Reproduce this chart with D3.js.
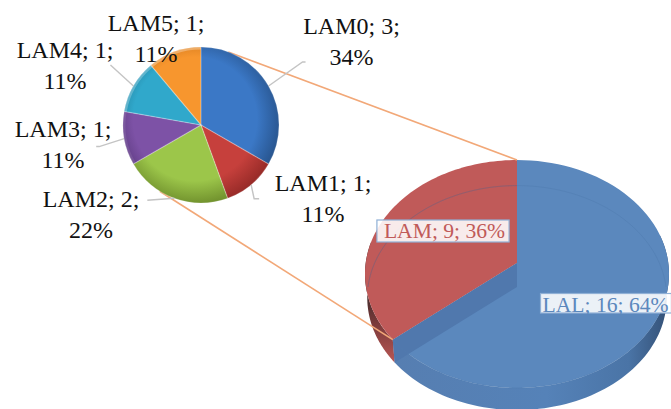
<!DOCTYPE html>
<html>
<head>
<meta charset="utf-8">
<style>
  html, body { margin: 0; padding: 0; background: #fff; }
  svg { display: block; }
  text { font-family: "Liberation Serif", serif; }
</style>
<script src="https://cdnjs.cloudflare.com/ajax/libs/d3/7.8.5/d3.min.js"></script>
</head>
<body>
<svg id="chart" width="671" height="409"></svg>
<script>
// Breakdown of the LAM slice
const subCategories = ["LAM0", "LAM1", "LAM2", "LAM3", "LAM4", "LAM5"];
const subValues = [3, 1, 2, 1, 1, 1];
const subPercents = ["34%", "11%", "22%", "11%", "11%", "11%"];
const subColors = ["#3b78c6", "#c6403c", "#9cc64a", "#7d52a6", "#30a8cb", "#f7962e"];
const subEdges = ["#28558f", "#982b28", "#6f8f2c", "#553577", "#217a96", "#c9721a"];

// Overall split
const mainCategories = ["LAL", "LAM"];
const mainValues = [16, 9];
const mainPercents = ["64%", "36%"];
const mainColors = ["#5b88bd", "#c05a59"];

const svg = d3.select("#chart");
const defs = svg.append("defs");

// ---- geometry of the two pies ----
const small = { cx: 201, cy: 125, r: 78 };
const big = { cx: 517, apexTop: 263, apexBottom: 287, a: 112.9, b: 151.3, k: 0.0965, floor: 0.985 };

const pie = d3.pie().sort(null).startAngle(0).endAngle(2 * Math.PI);
const subArcs = pie(subValues);
const mainArcs = pie(mainValues);

// Perspective projection of a point on the big pie's rim
function project(theta, level) {
  const u = Math.sin(theta), v = -Math.cos(theta);
  const s = level === "floor" ? big.floor : 1;
  const d = 1 - big.k * v;
  return [
    big.cx + s * big.b * u / d,
    (level === "floor" ? big.apexBottom : big.apexTop) + s * big.a * v / d
  ];
}
const rimAngles = (a0, a1) => d3.range(0, 81).map(i => a0 + (a1 - a0) * i / 80);
const rim = (a0, a1, level) => rimAngles(a0, a1).map(t => project(t, level));
const shape = d3.line();
const onSmall = (angle, r) => [small.cx + r * Math.sin(angle), small.cy - r * Math.cos(angle)];

const splitAngle = mainArcs[0].endAngle;

// ---- connector lines between the pies ----
const connectors = [
  { from: onSmall(20.4 * Math.PI / 180, small.r), to: project(0, "top") },
  { from: onSmall(211.9 * Math.PI / 180, small.r), to: project(splitAngle, "top") }
];

// ---- big pie: outer walls ----
const wallBlue = defs.append("linearGradient").attr("id", "wallBlue")
  .attr("gradientUnits", "userSpaceOnUse")
  .attr("x1", 395).attr("x2", 670).attr("y1", 0).attr("y2", 0);
[[0, "#567eb1"], [0.55, "#5582b8"], [0.85, "#4a74a6"], [1, "#334f74"]]
  .forEach(([o, c]) => wallBlue.append("stop").attr("offset", o).attr("stop-color", c));
const wallRed = defs.append("linearGradient").attr("id", "wallRed")
  .attr("gradientUnits", "userSpaceOnUse")
  .attr("x1", 0).attr("x2", 0).attr("y1", 290).attr("y2", 365);
[[0, "#3a2a2a"], [0.45, "#7a3a3a"], [1, "#bd5956"]]
  .forEach(([o, c]) => wallRed.append("stop").attr("offset", o).attr("stop-color", c));

const wall = (a0, a1) => shape(rim(a0, a1, "top").concat(rim(a0, a1, "floor").reverse())) + "Z";
const big3d = svg.append("g");
big3d.append("path").attr("d", wall(Math.PI * 0.42, splitAngle)).attr("fill", "url(#wallBlue)");
big3d.append("path").attr("d", wall(splitAngle, Math.PI * 1.56)).attr("fill", "url(#wallRed)");

// ---- big pie: top faces ----
const apex = [big.cx, big.apexTop];
big3d.selectAll("path.face").data(mainArcs).join("path")
  .attr("class", "face")
  .attr("d", d => shape([apex].concat(rim(d.startAngle, d.endAngle, "top"))) + "Z")
  .attr("fill", (d, i) => mainColors[i]);

// Inner cut face seen through the translucent top
big3d.append("path")
  .attr("d", shape([apex, [big.cx, big.apexBottom], project(splitAngle, "floor"), project(splitAngle, "top")]) + "Z")
  .attr("fill", "#5078ad");

// Far rim of the floor and near rim of the top, showing through
big3d.append("path").attr("d", shape(rim(-Math.PI * 0.5, Math.PI * 0.5, "floor")))
  .attr("fill", "none").attr("stroke", "#4f7cb0").attr("stroke-opacity", 0.5).attr("stroke-width", 1);
big3d.append("path").attr("d", shape(rim(Math.PI * 1.5, Math.PI * 2, "floor")))
  .attr("fill", "none").attr("stroke", "#a94c4c").attr("stroke-opacity", 0.55).attr("stroke-width", 1);
big3d.append("path").attr("d", shape(rim(Math.PI * 0.6, splitAngle, "top")))
  .attr("fill", "none").attr("stroke", "#4f7cb0").attr("stroke-opacity", 0.5).attr("stroke-width", 1);

svg.append("g").selectAll("line").data(connectors).join("line")
  .attr("x1", d => d.from[0]).attr("y1", d => d.from[1])
  .attr("x2", d => d.to[0]).attr("y2", d => d.to[1])
  .attr("stroke", "#f2a878").attr("stroke-width", 1.6);

// ---- small pie ----
const arc = d3.arc().innerRadius(0).outerRadius(small.r);
const smallG = svg.append("g").attr("transform", `translate(${small.cx},${small.cy})`);
subColors.forEach((c, i) => {
  const g = defs.append("radialGradient").attr("id", "sub" + i)
    .attr("gradientUnits", "userSpaceOnUse")
    .attr("cx", -6).attr("cy", -6).attr("r", small.r + 8);
  g.append("stop").attr("offset", 0.72).attr("stop-color", c);
  g.append("stop").attr("offset", 1).attr("stop-color", subEdges[i]);
});
smallG.selectAll("path.slice").data(subArcs).join("path")
  .attr("class", "slice")
  .attr("d", arc)
  .attr("fill", (d, i) => `url(#sub${i})`);

// Soft light along slice borders
smallG.selectAll("path.seam").data(subArcs).join("path")
  .attr("class", "seam").attr("d", arc)
  .attr("fill", "none").attr("stroke", "#fff").attr("stroke-opacity", 0.18).attr("stroke-width", 1.2);

// Light catching the bevelled top of the upper slices
const bevel = d3.arc().innerRadius(small.r - 2.5).outerRadius(small.r);
smallG.selectAll("path.bevel").data(subArcs).join("path")
  .attr("class", "bevel")
  .attr("d", bevel)
  .attr("fill", "#fff")
  .attr("opacity", d => Math.max(0, Math.cos((d.startAngle + d.endAngle) / 2 + 0.5)) * 0.3);

// ---- leader lines ----
const leaderTips = [[34, -24], [3, 14], [-27, 2], [-25, 8], [-23, -21], null];
const leaderHooks = [3, 5, 0, -3, 0, 0];
svg.append("g").selectAll("path").data(subArcs).join("path")
  .attr("d", (d, i) => {
    if (!leaderTips[i]) return null;
    const p = onSmall((d.startAngle + d.endAngle) / 2, small.r);
    const tip = [p[0] + leaderTips[i][0], p[1] + leaderTips[i][1]];
    return shape([p, tip, [tip[0] + leaderHooks[i], tip[1]]]);
  })
  .attr("fill", "none").attr("stroke", "#c4c4c4").attr("stroke-width", 1.4);

// ---- labels of the small pie ----
const subLabelPos = [[351.5, 34], [323, 191], [91, 207], [63, 137], [65, 58], [156, 31]];
const subText = svg.append("g").attr("font-size", 24).attr("fill", "#111").attr("text-anchor", "middle");
subCategories.forEach((name, i) => {
  const t = subText.append("text").attr("x", subLabelPos[i][0]).attr("y", subLabelPos[i][1]);
  t.append("tspan").attr("x", subLabelPos[i][0]).text(`${name}; ${subValues[i]};`);
  t.append("tspan").attr("x", subLabelPos[i][0]).attr("dy", 30.5).text(subPercents[i]);
});

// ---- boxed labels of the big pie ----
const mainLabelPos = [[605.5, 311.5], [444.5, 238]];
const mainBoxPad = [[2, 3, 18, 1.5], [7, 4, 18, 4]];
const mainLabels = svg.append("g");
mainCategories.forEach((name, i) => {
  const g = mainLabels.append("g");
  const t = g.append("text")
    .attr("x", mainLabelPos[i][0]).attr("y", mainLabelPos[i][1])
    .attr("text-anchor", "middle").attr("font-size", 21.6)
    .attr("fill", mainColors[i])
    .text(`${name}; ${mainValues[i]}; ${mainPercents[i]}`);
  const w = t.node().getComputedTextLength();
  const [left, right, above, below] = mainBoxPad[i];
  g.insert("rect", "text")
    .attr("x", mainLabelPos[i][0] - w / 2 - left).attr("y", mainLabelPos[i][1] - above)
    .attr("width", w + left + right).attr("height", above + below)
    .attr("fill", "#fff").attr("fill-opacity", 0.88)
    .attr("stroke", "#8fb0d6").attr("stroke-width", 1.2);
});
</script>
</body>
</html>
